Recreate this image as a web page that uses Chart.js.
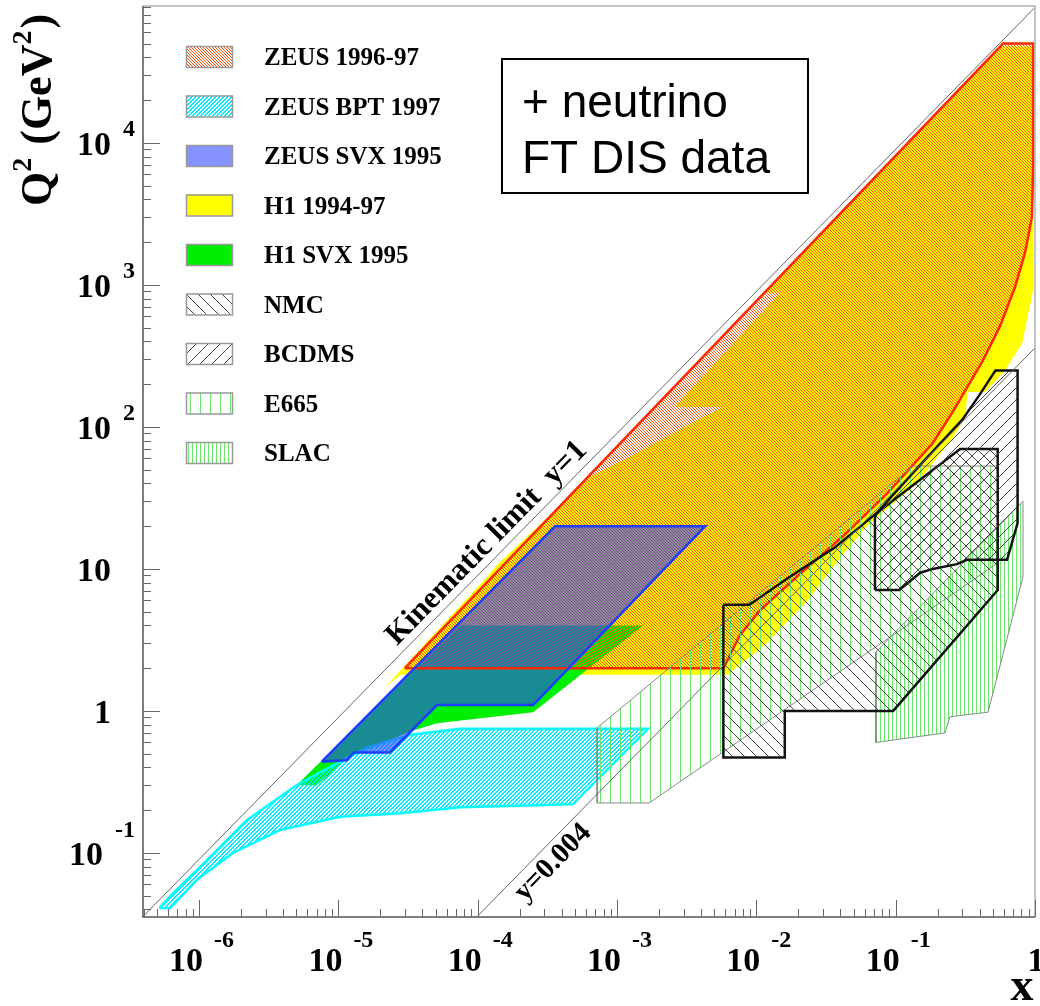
<!DOCTYPE html>
<html>
<head>
<meta charset="utf-8">
<script src="https://cdn.jsdelivr.net/npm/chart.js@4.4.1/dist/chart.umd.min.js"></script>
<style>
  html, body { margin: 0; padding: 0; background: #fff; }
  canvas { display: block; }
</style>
</head>
<body>
<canvas id="plot" width="1040" height="1006"></canvas>
<script>
// (x, Q^2) coverage of the DIS data sets, log-log plane

// ZEUS 1996-97
var zeus97X  = [3.0e-5, 0.59, 0.97, 0.97, 0.95, 0.85, 0.72, 0.56, 0.42, 0.26, 0.185, 0.087, 0.042, 0.021, 0.0106, 0.0076, 0.0058];
var zeus97Q2 = [2.0, 50000, 50000, 6800, 3000, 1700, 970, 510, 290, 130, 77, 34, 17, 9.4, 5.1, 3.4, 2.0];

// ZEUS BPT 1997
var bptX  = [5.2e-7, 6.5e-7, 1.14e-6, 2.2e-6, 5.0e-6, 7.4e-6, 1.6e-5, 3.3e-5, 7.5e-5, 1.67e-3, 4.8e-4, 7.5e-5, 2.8e-5, 1.03e-5, 3.8e-6, 1.75e-6, 9.7e-7, 6.2e-7];
var bptQ2 = [0.041, 0.052, 0.089, 0.17, 0.30, 0.37, 0.55, 0.68, 0.75, 0.75, 0.22, 0.21, 0.19, 0.18, 0.145, 0.10, 0.065, 0.041];

// ZEUS SVX 1995
var svxX  = [7.6e-6, 3.6e-4, 4.3e-3, 2.5e-4, 5.1e-5, 2.35e-5, 1.3e-5, 1.15e-5];
var svxQ2 = [0.44, 20, 20, 1.1, 1.1, 0.51, 0.51, 0.45];

// H1 1994-97
var h1X  = [2.2e-5, 1.17e-4, 1.38e-4, 6.4e-4, 5.8e-3, 2.6e-3, 0.0148, 0.0113, 0.56, 0.97, 0.97, 0.81, 0.61, 0.44, 0.33, 0.315, 0.26, 0.142, 0.062, 0.040, 0.024, 0.0119, 6.2e-3, 2.8e-5];
var h1Q2 = [1.5, 8.8, 10.7, 44, 138, 138, 880, 880, 48000, 48000, 920, 390, 250, 176, 176, 118, 85, 40, 20, 12, 6.2, 3.0, 1.8, 1.8];

// H1 SVX 1995
var h1svxX  = [5.0e-6, 7.0e-6, 1.2e-5, 3.3e-5, 5.1e-5, 2.5e-4, 1.54e-3, 7.5e-5];
var h1svxQ2 = [0.30, 0.30, 0.47, 0.72, 0.82, 0.98, 4.0, 4.0];

// NMC
var nmcX  = [5.8e-3, 5.8e-3, 0.016, 0.016, 0.096, 0.54, 0.54, 0.29, 0.074, 0.036, 0.0174, 8.9e-3];
var nmcQ2 = [5.6, 0.47, 0.47, 1.0, 1.0, 7.1, 70, 70, 25, 14, 8.8, 5.6];

// BCDMS
var bcdmsX  = [0.071, 0.071, 0.15, 0.30, 0.40, 0.52, 0.75, 0.75, 0.63, 0.325, 0.275, 0.185, 0.15, 0.106];
var bcdmsQ2 = [7.1, 24, 54, 112, 168, 250, 250, 21, 11.6, 11.6, 10.8, 10, 9.4, 7.1];

// E665
var e665X  = [7.2e-4, 7.2e-4, 1.7e-3, 0.54, 0.54, 0.133];
var e665Q2 = [0.76, 0.225, 0.225, 11, 53, 53];

// SLAC
var slacX  = [0.072, 0.226, 0.245, 0.46, 0.82, 0.82, 0.072];
var slacQ2 = [0.6, 0.70, 0.91, 0.98, 8.8, 30, 2.6];

// kinematic limit y=1 and the y=0.004 line
var yOneX  = [4e-7, 1];
var yOneQ2 = [0.036, 90000];
var yLowX  = [1e-4, 1];
var yLowQ2 = [0.036, 360];

// axis labels
var xTickValues = [1e-6, 1e-5, 1e-4, 1e-3, 1e-2, 1e-1, 1];
var xTickBase   = ['10', '10', '10', '10', '10', '10', '1'];
var xTickExp    = ['-6', '-5', '-4', '-3', '-2', '-1', ''];
var yTickValues = [0.1, 1, 10, 100, 1000, 10000];
var yTickBase   = ['10', '1', '10', '10', '10', '10'];
var yTickExp    = ['-1', '', '', '2', '3', '4'];

var legendLabels = ['ZEUS 1996-97', 'ZEUS BPT 1997', 'ZEUS SVX 1995', 'H1 1994-97', 'H1 SVX 1995',
                    'NMC', 'BCDMS', 'E665', 'SLAC'];

var canvas = document.getElementById('plot');
var ctx = canvas.getContext('2d');

// small pixel tiles used as hatch fills
function tile(w, h, color, on) {
  var t = document.createElement('canvas');
  t.width = w; t.height = h;
  var g = t.getContext('2d');
  g.fillStyle = color;
  for (var i = 0; i < w; i++)
    for (var j = 0; j < h; j++)
      if (on(i, j)) g.fillRect(i, j, 1, 1);
  return ctx.createPattern(t, 'repeat');
}

var hatchZeus  = tile(3, 3, 'rgb(255,75,0)', function (i, j) { return i === j; });
var hatchBpt   = tile(4, 4, 'rgb(0,235,255)', function (i, j) { var k = (i + j) % 4; return k === 3 || k === 0; });
var fillSvx    = 'rgba(45,65,255,0.58)';
var hatchNmc   = tile(12, 12, 'rgb(70,70,70)', function (i, j) { return i === j; });
var hatchBcdms = tile(12, 12, 'rgb(70,70,70)', function (i, j) { return i + j === 11; });
var hatchE665  = tile(10, 1, 'rgb(110,230,110)', function (i) { return i === 0; });
var hatchSlac  = tile(4, 1, 'rgb(110,230,110)', function (i) { return i === 0; });
var h1Yellow = 'rgb(255,255,0)';
var h1Green = 'rgb(0,238,0)';

var legendFills = [hatchZeus, hatchBpt, fillSvx, h1Yellow, h1Green, hatchNmc, hatchBcdms, hatchE665, hatchSlac];

function pts(xs, ys, closed) {
  var out = [];
  for (var i = 0; i < xs.length; i++) out.push({ x: xs[i], y: ys[i] });
  if (closed) out.push({ x: xs[0], y: ys[0] });
  return out;
}

function region(label, xs, ys, fillStyle, lineColor, lineWidth) {
  return {
    label: label,
    data: pts(xs, ys, true),
    backgroundColor: fillStyle || 'rgba(0,0,0,0)',
    borderColor: lineColor || 'rgba(0,0,0,0)',
    borderWidth: lineWidth || 0,
    fill: fillStyle ? 'shape' : false,
    pointRadius: 0,
    tension: 0,
    borderJoinStyle: 'miter'
  };
}

function refLine(label, xs, ys) {
  return {
    label: label,
    data: pts(xs, ys, false),
    borderColor: '#666',
    borderWidth: 1,
    fill: false,
    pointRadius: 0
  };
}

// listed bottom to top; outlines of the HERA regions go on after the fills
var layers = [
  region('H1 1994-97', h1X, h1Q2, h1Yellow),
  region('H1 SVX 1995', h1svxX, h1svxQ2, h1Green),
  region('ZEUS BPT 1997', bptX, bptQ2, hatchBpt, 'rgb(0,255,255)', 2.5),
  region('ZEUS 1996-97', zeus97X, zeus97Q2, hatchZeus),
  region('ZEUS SVX 1995', svxX, svxQ2, fillSvx),
  region('ZEUS 1996-97 edge', zeus97X, zeus97Q2, null, 'rgb(255,40,0)', 2.5),
  region('ZEUS SVX 1995 edge', svxX, svxQ2, null, 'rgb(30,60,255)', 2.5),
  region('SLAC', slacX, slacQ2, hatchSlac, '#888', 1),
  region('E665', e665X, e665Q2, hatchE665, '#888', 1),
  region('NMC', nmcX, nmcQ2, hatchNmc, '#111', 2.5),
  region('BCDMS', bcdmsX, bcdmsQ2, hatchBcdms, '#111', 2.5),
  refLine('y=1', yOneX, yOneQ2),
  refLine('y=0.004', yLowX, yLowQ2)
];
layers.forEach(function (d, i) { d.order = layers.length - i; });

var SERIF = '"Liberation Serif", "Times New Roman", serif';

function drawFrame(chart) {
  var c = chart.ctx, a = chart.chartArea, sx = chart.scales.x, sy = chart.scales.y;
  c.save();
  c.lineWidth = 1.5;
  c.strokeStyle = '#b0b0b0';
  c.beginPath();
  c.moveTo(a.left, a.top); c.lineTo(a.right, a.top); c.lineTo(a.right, a.bottom);
  c.stroke();
  c.strokeStyle = '#555';
  c.beginPath();
  c.moveTo(a.left, a.top); c.lineTo(a.left, a.bottom); c.lineTo(a.right, a.bottom);
  c.stroke();
  c.lineWidth = 1;
  c.strokeStyle = '#666';
  for (var e = -7; e <= 4; e++) {
    for (var m = 1; m <= 9; m++) {
      var v = m * Math.pow(10, e);
      var len = m === 1 ? 17 : 8;
      if (v >= sx.min && v <= sx.max) {
        var px = Math.round(sx.getPixelForValue(v)) + 0.5;
        c.beginPath(); c.moveTo(px, a.bottom); c.lineTo(px, a.bottom - len); c.stroke();
      }
      if (v >= sy.min && v <= sy.max) {
        var py = Math.round(sy.getPixelForValue(v)) + 0.5;
        c.beginPath(); c.moveTo(a.left, py); c.lineTo(a.left + len, py); c.stroke();
      }
    }
  }
  c.restore();
}

// text laid along one of the straight reference lines
function textOnLine(chart, xs, ys, atX, parts) {
  var c = chart.ctx, sx = chart.scales.x, sy = chart.scales.y;
  var x1 = sx.getPixelForValue(xs[0]), y1 = sy.getPixelForValue(ys[0]);
  var x2 = sx.getPixelForValue(xs[1]), y2 = sy.getPixelForValue(ys[1]);
  var ax = sx.getPixelForValue(atX);
  var ay = y1 + (ax - x1) * (y2 - y1) / (x2 - x1);
  c.save();
  c.translate(ax, ay);
  c.rotate(Math.atan2(y2 - y1, x2 - x1));
  c.textAlign = 'left';
  c.textBaseline = 'alphabetic';
  parts.forEach(function (p) {
    c.font = p.font;
    c.fillText(p.text, p.dx, p.dy);
  });
  c.restore();
}

function drawLabels(chart) {
  var c = chart.ctx, sx = chart.scales.x, sy = chart.scales.y;
  var i, w;
  c.save();
  c.fillStyle = '#000';
  c.textBaseline = 'alphabetic';

  // x tick labels
  for (i = 0; i < xTickValues.length; i++) {
    var px = sx.getPixelForValue(xTickValues[i]);
    c.font = 'bold 34px ' + SERIF;
    if (xTickExp[i]) {
      c.textAlign = 'right';
      c.fillText(xTickBase[i], px + 4, 971);
      c.font = 'bold 24px ' + SERIF;
      c.textAlign = 'left';
      c.fillText(xTickExp[i], px + 15, 947);
    } else {
      c.textAlign = 'center';
      c.fillText(xTickBase[i], px + 1, 971);
    }
  }

  // y tick labels
  for (i = 0; i < yTickValues.length; i++) {
    var py = sy.getPixelForValue(yTickValues[i]);
    if (yTickExp[i]) {
      c.font = 'bold 24px ' + SERIF;
      w = c.measureText(yTickExp[i]).width;
      c.textAlign = 'left';
      c.fillText(yTickExp[i], 135 - w, yTickValues[i] < 1 ? py - 16 : py - 7);
      c.font = 'bold 34px ' + SERIF;
      c.textAlign = 'right';
      c.fillText(yTickBase[i], 135 - w - 12, py + 12);
    } else {
      c.font = 'bold 34px ' + SERIF;
      c.textAlign = 'right';
      c.fillText(yTickBase[i], 111, py + 12);
    }
  }

  // axis titles
  c.save();
  c.translate(51, 206);
  c.rotate(-Math.PI / 2);
  c.textAlign = 'left';
  var big = 'bold 44px ' + SERIF, small = 'bold 28px ' + SERIF;
  var tx = 0;
  [['Q', big, 0], ['2', small, -20], [' (GeV', big, 0], ['2', small, -20], [')', big, 0]].forEach(function (p) {
    c.font = p[1];
    c.fillText(p[0], tx, p[2]);
    tx += c.measureText(p[0]).width + (p[1] === small ? 2 : 0);
  });
  c.restore();
  c.font = 'bold 46px ' + SERIF;
  c.textAlign = 'center';
  c.fillText('x', 1022, 1000);

  // legend
  for (i = 0; i < legendLabels.length; i++) {
    var y0 = 46 + i * 49.5;
    c.fillStyle = legendFills[i];
    c.fillRect(186, y0, 46, 21);
    c.strokeStyle = '#999';
    c.lineWidth = 1.5;
    c.strokeRect(186.5, y0 + 0.5, 46, 21);
    c.fillStyle = '#000';
    c.font = 'bold 25px ' + SERIF;
    c.textAlign = 'left';
    c.fillText(legendLabels[i], 264, y0 + 19);
  }

  // note box
  c.lineWidth = 2;
  c.strokeStyle = '#000';
  c.strokeRect(502, 59, 306, 134);
  c.font = '46px "Liberation Sans", Arial, sans-serif';
  c.textAlign = 'left';
  c.fillText('+ neutrino', 522, 117);
  c.fillText('FT DIS data', 522, 173);
  c.restore();

  // line captions
  var kin = 'bold 31px ' + SERIF;
  textOnLine(chart, yOneX, yOneQ2, 2.9e-5, [
    { text: 'Kinematic limit', font: kin, dx: 0, dy: -8 },
    { text: 'y=1', font: kin, dx: 224, dy: -8 }
  ]);
  textOnLine(chart, yLowX, yLowQ2, 1.6e-4, [
    { text: 'y=0.004', font: 'bold 29px ' + SERIF, dx: 2, dy: 24 }
  ]);
}

var decorations = {
  id: 'decorations',
  afterDatasetsDraw: drawFrame,
  afterDraw: drawLabels
};

new Chart(ctx, {
  type: 'line',
  data: { datasets: layers },
  options: {
    responsive: false,
    animation: false,
    events: [],
    layout: { padding: { left: 143, right: 5, top: 6, bottom: 89 } },
    scales: {
      x: { type: 'logarithmic', min: 3.96e-7, max: 1, display: false },
      y: { type: 'logarithmic', min: 0.0354, max: 92000, display: false }
    },
    plugins: {
      legend: { display: false },
      tooltip: { enabled: false }
    }
  },
  plugins: [decorations]
});
</script>
</body>
</html>
